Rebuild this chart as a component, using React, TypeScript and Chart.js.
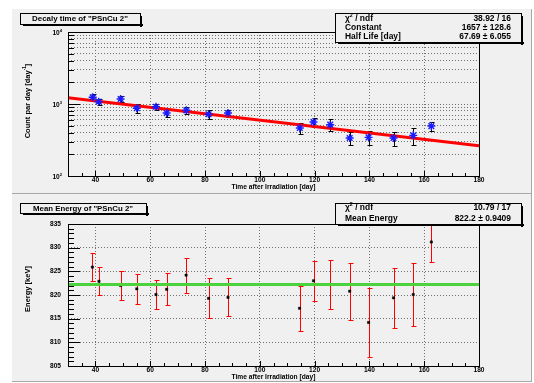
import React, { useEffect, useRef } from "react";
import { Chart, registerables } from "chart.js";
Chart.register(...registerables);

// ---------------- data ----------------
const decayDays = [39.0, 41.2, 49.2, 55.1, 62.1, 66.0, 73.2, 81.3, 88.4, 114.6, 119.6, 125.7, 132.8, 139.7, 148.8, 156.0, 162.6];
const decayCounts = [1240, 1077, 1172, 872, 917, 750, 817, 720, 750, 464, 562, 516, 337, 344, 337, 367, 494];
const decayErrors = [120, 110, 110, 120, 95, 100, 90, 100, 80, 85, 86, 95, 70, 75, 75, 95, 70];
const fitDays = [30, 180];
const fitCounts = [1219, 263];

const energyDays = [38.9, 41.3, 49.2, 55.1, 62.1, 66.0, 73.1, 81.3, 88.4, 114.5, 119.6, 125.7, 132.8, 139.7, 148.8, 156.0, 162.6];
const energyValues = [825.9, 822.9, 822.0, 821.3, 820.1, 821.2, 824.2, 819.3, 819.5, 817.2, 823.0, 822.2, 820.8, 814.2, 819.4, 820.1, 831.2];
const energyErrors = [2.9, 3.0, 3.05, 3.1, 3.1, 3.4, 3.7, 4.2, 4.0, 4.7, 4.2, 5.2, 6.0, 7.3, 6.3, 6.75, 4.2];
const meanDays = [30, 180];
const meanEnergy = [822.2, 822.2];

const xMin = 30;
const xMax = 180;
const xTickLabels = [40, 60, 80, 100, 120, 140, 160, 180];
const xTickStep = 5;
const energyTickLabels = [805, 810, 815, 820, 825, 830, 835];
const energyMinorStep = 1;
const logDecades = [100, 1000, 10000];

const decayTitle = 'Decaly time of "PSnCu 2"';
const energyTitle = 'Mean Energy of "PSnCu 2"';
const xAxisTitle = "Time after Irradiation [day]";
const decayYTitle = "Count par day [day";
const energyYTitle = "Energy [keV]";
const decayStats: [string, string][] = [
  ["chi", "38.92 / 16"],
  ["Constant", "1657 \u00b1 128.6"],
  ["Half Life [day]", "67.69 \u00b1 6.055"],
];
const energyStats: [string, string][] = [
  ["chi", "10.79 / 17"],
  ["Mean Energy", "822.2 \u00b1 0.9409"],
];

// ---------------- layout ----------------
const W = 534;
const TOP_H = 194;
const BOT_H = 189;
const FONT = '"Liberation Sans", Arial, Helvetica, sans-serif';
const PAD_FILL = "#f0f0f0";

function fitSize(ctx: CanvasRenderingContext2D, text: string, width: number) {
  ctx.font = `bold 20px ${FONT}`;
  return (20 * width) / ctx.measureText(text).width;
}

type Part = { t: string; sup?: boolean };
function drawRich(ctx: CanvasRenderingContext2D, parts: Part[], x: number, y: number, size: number, align: "left" | "right" | "center") {
  const widths = parts.map((p) => {
    ctx.font = `bold ${p.sup ? size * 0.62 : size}px ${FONT}`;
    return ctx.measureText(p.t).width;
  });
  const total = widths.reduce((a, b) => a + b, 0);
  let cx = align === "left" ? x : align === "right" ? x - total : x - total / 2;
  ctx.textAlign = "left";
  ctx.textBaseline = "middle";
  parts.forEach((p, i) => {
    ctx.font = `bold ${p.sup ? size * 0.62 : size}px ${FONT}`;
    ctx.fillText(p.t, cx, p.sup ? y - size * 0.38 : y);
    cx += widths[i];
  });
}

function drawBox(ctx: CanvasRenderingContext2D, x1: number, y1: number, x2: number, y2: number) {
  ctx.fillStyle = PAD_FILL;
  ctx.fillRect(x1, y1, x2 - x1, y2 - y1);
  ctx.fillStyle = "#000";
  ctx.fillRect(x1 + 3, y2, x2 - x1, 2);
  ctx.fillRect(x2, y1 + 3, 2, y2 - y1);
  ctx.strokeStyle = "#000";
  ctx.lineWidth = 1;
  ctx.strokeRect(x1 + 0.5, y1 + 0.5, x2 - x1, y2 - y1);
}

type Panel = {
  id: string;
  padTop: number;
  padBottom: number;
  title: string;
  titleBox: [number, number, number, number];
  titleWidth: number;
  statsBox: [number, number, number, number];
  stats: [string, string][];
  statsRowY: number[];
  yTitleParts: Part[];
  yTitleCenter: number;
  xTitleY: number;
  log: boolean;
  errX: number[];
  errY: number[];
  errE: number[];
  errColor: string;
};

function makePlugin(p: Panel) {
  return {
    id: "rootStyle" + p.id,
    beforeDraw(chart: any) {
      const ctx = chart.ctx as CanvasRenderingContext2D;
      ctx.save();
      ctx.fillStyle = "#ffffff";
      ctx.fillRect(0, 0, chart.width, chart.height);
      ctx.fillStyle = PAD_FILL;
      ctx.fillRect(12, p.padTop, 531 - 12, p.padBottom - p.padTop);
      ctx.fillStyle = "#a8a8a8";
      ctx.fillRect(531, p.padTop, 1, p.padBottom - p.padTop + 1);
      ctx.fillRect(12, p.padBottom, 531 - 12, 1);
      ctx.restore();
    },
    beforeDatasetsDraw(chart: any) {
      const ctx = chart.ctx as CanvasRenderingContext2D;
      const a = chart.chartArea;
      const xs = chart.scales.x;
      const ys = chart.scales.y;
      ctx.save();
      ctx.beginPath();
      ctx.rect(a.left, a.top, a.right - a.left, a.bottom - a.top);
      ctx.clip();
      ctx.strokeStyle = p.errColor;
      ctx.lineWidth = 1;
      p.errX.forEach((x, i) => {
        const px = Math.round(xs.getPixelForValue(x)) + 0.5;
        const top = Math.round(ys.getPixelForValue(p.errY[i] + p.errE[i])) + 0.5;
        const bot = Math.round(ys.getPixelForValue(p.errY[i] - p.errE[i])) + 0.5;
        ctx.beginPath();
        ctx.moveTo(px, top);
        ctx.lineTo(px, bot);
        ctx.moveTo(px - 2, top);
        ctx.lineTo(px + 3, top);
        ctx.moveTo(px - 2, bot);
        ctx.lineTo(px + 3, bot);
        ctx.stroke();
      });
      ctx.restore();
    },
    afterDraw(chart: any) {
      const ctx = chart.ctx as CanvasRenderingContext2D;
      const a = chart.chartArea;
      const xs = chart.scales.x;
      const ys = chart.scales.y;
      const L = Math.round(a.left);
      const R = Math.round(a.right);
      const T = Math.round(a.top);
      const B = Math.round(a.bottom);
      ctx.save();
      ctx.strokeStyle = "#000";
      ctx.fillStyle = "#000";
      ctx.lineWidth = 1;
      // frame
      ctx.strokeRect(L + 0.5, T + 0.5, R - L, B - T);
      // x ticks
      ctx.beginPath();
      for (let v = xMin; v <= xMax; v += xTickStep) {
        const px = Math.round(xs.getPixelForValue(v)) + 0.5;
        const len = xTickLabels.includes(v) ? 5 : 3;
        ctx.moveTo(px, B);
        ctx.lineTo(px, B - len);
      }
      // y ticks
      if (p.log) {
        logDecades.forEach((d, di) => {
          if (di === logDecades.length - 1) return;
          for (let m = 1; m <= 9; m++) {
            const py = Math.round(ys.getPixelForValue(d * m)) + 0.5;
            const len = m === 1 ? 12 : 6;
            ctx.moveTo(L, py);
            ctx.lineTo(L + len, py);
          }
        });
        const pyTop = Math.round(ys.getPixelForValue(logDecades[logDecades.length - 1])) + 0.5;
        ctx.moveTo(L, pyTop);
        ctx.lineTo(L + 12, pyTop);
      } else {
        const lo = energyTickLabels[0];
        const hi = energyTickLabels[energyTickLabels.length - 1];
        for (let v = lo; v <= hi; v += energyMinorStep) {
          const py = Math.round(ys.getPixelForValue(v)) + 0.5;
          const len = energyTickLabels.includes(v) ? 12 : 6;
          ctx.moveTo(L, py);
          ctx.lineTo(L + len, py);
        }
      }
      ctx.stroke();

      // tick labels
      const tickSize = 6.6;
      ctx.font = `bold ${tickSize}px ${FONT}`;
      ctx.textAlign = "center";
      ctx.textBaseline = "top";
      xTickLabels.forEach((v) => {
        ctx.fillText(String(v), xs.getPixelForValue(v), B + 1);
      });
      if (p.log) {
        logDecades.forEach((d) => {
          const exp = Math.round(Math.log10(d));
          drawRich(ctx, [{ t: "10" }, { t: String(exp), sup: true }], L - 6, ys.getPixelForValue(d) + 1, tickSize, "right");
        });
      } else {
        ctx.textAlign = "right";
        ctx.textBaseline = "middle";
        energyTickLabels.forEach((v) => {
          ctx.fillText(String(v), L - 7, ys.getPixelForValue(v));
        });
      }

      // axis titles
      const xtSize = fitSize(ctx, xAxisTitle, 84);
      ctx.font = `bold ${xtSize}px ${FONT}`;
      ctx.textAlign = "center";
      ctx.textBaseline = "middle";
      ctx.fillText(xAxisTitle, (L + R) / 2, p.xTitleY);

      const ytSize = fitSize(ctx, energyYTitle, 46);
      ctx.save();
      ctx.translate(28, p.yTitleCenter);
      ctx.rotate(-Math.PI / 2);
      drawRich(ctx, p.yTitleParts, 0, 0, ytSize, "center");
      ctx.restore();

      // title box
      const [tx1, ty1, tx2, ty2] = p.titleBox;
      drawBox(ctx, tx1, ty1, tx2, ty2);
      const tSize = fitSize(ctx, p.title, p.titleWidth);
      ctx.fillStyle = "#000";
      ctx.font = `bold ${tSize}px ${FONT}`;
      ctx.textAlign = "center";
      ctx.textBaseline = "middle";
      ctx.fillText(p.title, (tx1 + tx2) / 2, (ty1 + ty2) / 2 + 0.5);

      // stats box
      const [sx1, sy1, sx2, sy2] = p.statsBox;
      drawBox(ctx, sx1, sy1, sx2, sy2);
      ctx.fillStyle = "#000";
      const sSize = fitSize(ctx, "Half Life [day]", 56);
      p.stats.forEach(([left, right], i) => {
        const y = p.statsRowY[i];
        if (left === "chi") {
          drawRich(ctx, [{ t: "\u03c7" }, { t: "2", sup: true }, { t: " / ndf" }], sx1 + 10, y, sSize, "left");
        } else {
          drawRich(ctx, [{ t: left }], sx1 + 10, y, sSize, "left");
        }
        drawRich(ctx, [{ t: right }], sx2 - 10, y, sSize, "right");
      });
      ctx.restore();
    },
  };
}

function PanelChart(props: { panel: Panel; height: number; top: number; config: (plugin: any) => any }) {
  const ref = useRef<HTMLCanvasElement | null>(null);
  useEffect(() => {
    if (!ref.current) return;
    const chart = new Chart(ref.current, props.config(makePlugin(props.panel)));
    return () => chart.destroy();
  }, []);
  return (
    <canvas
      ref={ref}
      width={W}
      height={props.height}
      style={{ position: "absolute", left: 0, top: props.top, width: W, height: props.height, display: "block" }}
    />
  );
}

const topPanel: Panel = {
  id: "decay",
  padTop: 9,
  padBottom: 193,
  title: decayTitle,
  titleBox: [20, 13, 140, 24],
  titleWidth: 96,
  statsBox: [335, 13, 521, 42],
  stats: decayStats,
  statsRowY: [19, 28, 36.5],
  yTitleParts: [{ t: decayYTitle }, { t: "-1", sup: true }, { t: "]" }],
  yTitleCenter: 101,
  xTitleY: 187.5,
  log: true,
  errX: decayDays,
  errY: decayCounts,
  errE: decayErrors,
  errColor: "#000000",
};

const bottomPanel: Panel = {
  id: "energy",
  padTop: 0,
  padBottom: 187,
  title: energyTitle,
  titleBox: [20, 9, 146, 19],
  titleWidth: 100,
  statsBox: [335, 9, 521, 30],
  stats: energyStats,
  statsRowY: [14, 24.5],
  yTitleParts: [{ t: energyYTitle }],
  yTitleCenter: 95,
  xTitleY: 183.5,
  log: false,
  errX: energyDays,
  errY: energyValues,
  errE: energyErrors,
  errColor: "#ff0000",
};

const commonX = (height: number) => ({
  type: "linear",
  min: xMin,
  max: xMax,
  afterBuildTicks: (s: any) => {
    s.ticks = xTickLabels.map((v) => ({ value: v }));
  },
  afterFit: (s: any) => {
    s.height = height;
  },
  ticks: { display: false },
  grid: { color: "#707070", lineWidth: 1, drawTicks: false },
  border: { display: false, dash: [1, 2] },
});

const topConfig = (plugin: any) => ({
  type: "scatter",
  data: {
    datasets: [
      {
        type: "line",
        data: fitDays.map((x, i) => ({ x, y: fitCounts[i] })),
        borderColor: "#ff0000",
        borderWidth: 3,
        pointRadius: 0,
        order: 2,
      },
      {
        type: "scatter",
        data: decayDays.map((x, i) => ({ x, y: decayCounts[i] })),
        pointStyle: "star",
        pointRadius: 4,
        borderColor: "#1a1aff",
        backgroundColor: "#1a1aff",
        borderWidth: 1.4,
        order: 1,
      },
    ],
  },
  options: {
    animation: false,
    responsive: false,
    events: [],
    layout: { padding: { top: 32, right: W - 479, left: 0, bottom: 0 } },
    plugins: { legend: { display: false }, tooltip: { enabled: false } },
    scales: {
      x: commonX(TOP_H - 176),
      y: {
        type: "logarithmic",
        min: logDecades[0],
        max: logDecades[logDecades.length - 1],
        afterBuildTicks: (s: any) => {
          const vals: any[] = [];
          logDecades.forEach((d, di) => {
            if (di === logDecades.length - 1) return;
            for (let m = 1; m <= 9; m++) vals.push({ value: d * m });
          });
          s.ticks = vals;
        },
        afterFit: (s: any) => {
          s.width = 68;
        },
        ticks: { display: false },
        grid: { color: "#707070", lineWidth: 1, drawTicks: false },
        border: { display: false, dash: [1, 2] },
      },
    },
  },
  plugins: [plugin],
});

const bottomConfig = (plugin: any) => ({
  type: "scatter",
  data: {
    datasets: [
      {
        type: "line",
        data: meanDays.map((x, i) => ({ x, y: meanEnergy[i] })),
        borderColor: "#4cd23c",
        borderWidth: 3,
        pointRadius: 0,
        order: 1,
      },
      {
        type: "scatter",
        data: energyDays.map((x, i) => ({ x, y: energyValues[i] })),
        pointStyle: "rect",
        pointRadius: 1.6,
        borderColor: "#000000",
        backgroundColor: "#000000",
        borderWidth: 0.5,
        order: 2,
      },
    ],
  },
  options: {
    animation: false,
    responsive: false,
    events: [],
    layout: { padding: { top: 30, right: W - 479, left: 0, bottom: 0 } },
    plugins: { legend: { display: false }, tooltip: { enabled: false } },
    scales: {
      x: commonX(BOT_H - 172),
      y: {
        type: "linear",
        min: energyTickLabels[0],
        max: energyTickLabels[energyTickLabels.length - 1],
        afterBuildTicks: (s: any) => {
          s.ticks = energyTickLabels.map((v) => ({ value: v }));
        },
        afterFit: (s: any) => {
          s.width = 68;
        },
        ticks: { display: false },
        grid: { color: "#707070", lineWidth: 1, drawTicks: false },
        border: { display: false, dash: [1, 2] },
      },
    },
  },
  plugins: [plugin],
});

export default function App() {
  return (
    <div style={{ position: "fixed", left: 0, top: 0, width: W, height: 383, background: "#ffffff", overflow: "hidden" }}>
      <PanelChart panel={topPanel} height={TOP_H} top={0} config={topConfig} />
      <PanelChart panel={bottomPanel} height={BOT_H} top={TOP_H} config={bottomConfig} />
    </div>
  );
}
